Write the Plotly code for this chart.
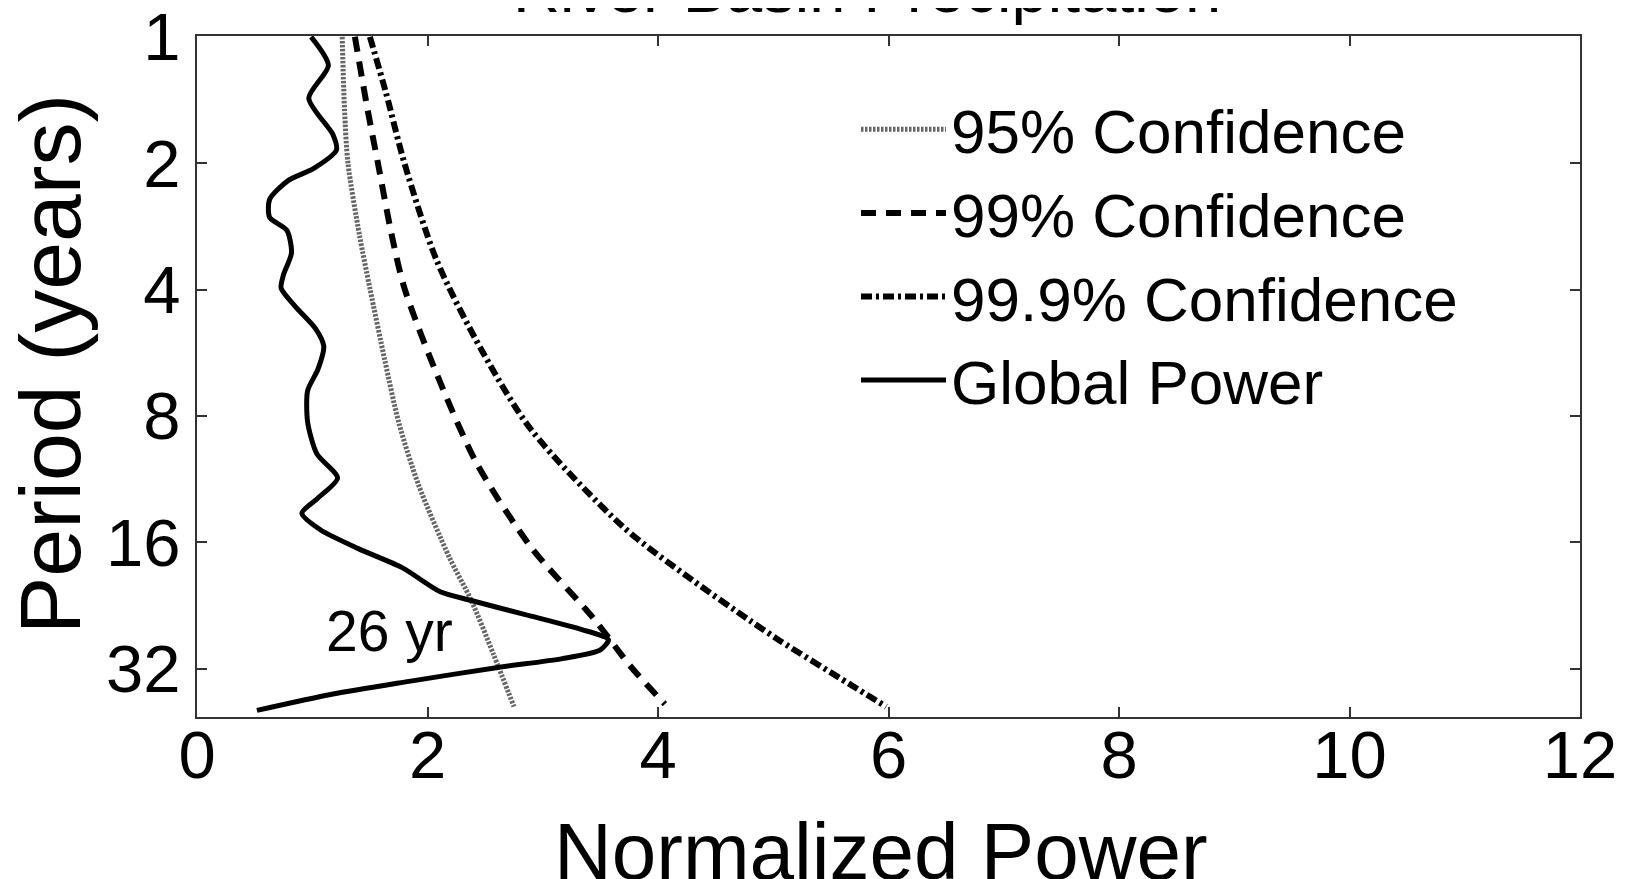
import math
import plotly.graph_objects as go

# ---- data ----
gp_period = [1.00, 1.17, 1.40, 1.71, 1.86, 2.06, 2.20, 2.44, 2.69, 2.89, 3.27, 3.69, 3.97,
             4.38, 4.96, 5.46, 6.19, 6.96, 8.28, 9.85, 11.24, 12.55, 13.64, 14.93, 16.56,
             18.38, 20.97, 22.01, 23.75, 25.81, 27.28, 28.84, 30.27, 31.78, 34.30, 36.76, 40.22]
gp_power = [0.99, 1.14, 0.97, 1.18, 1.21, 1.01, 0.79, 0.63, 0.63, 0.78, 0.82, 0.75, 0.73,
            0.85, 1.03, 1.10, 1.05, 0.96, 0.96, 1.04, 1.22, 1.05, 0.91, 1.07, 1.40,
            1.78, 2.11, 2.38, 2.84, 3.34, 3.57, 3.50, 3.17, 2.61, 1.84, 1.18, 0.52]

c95_period = [1.00, 1.49, 2.00, 2.97, 3.97, 5.90, 8.28, 11.63, 17.39, 22.01, 29.45, 39.40]
c95_power = [1.26, 1.28, 1.31, 1.41, 1.50, 1.63, 1.75, 1.92, 2.19, 2.38, 2.57, 2.75]

c99_period = [1.00, 1.49, 2.00, 2.97, 3.97, 6.45, 10.41, 16.45, 24.08, 31.78, 38.85]
c99_power = [1.37, 1.48, 1.57, 1.69, 1.80, 2.09, 2.43, 2.90, 3.43, 3.77, 4.06]

c999_period = [1.00, 1.36, 2.00, 3.41, 5.58, 8.63, 14.72, 19.70, 24.59, 27.47, 34.78, 39.40]
c999_power = [1.50, 1.64, 1.80, 2.08, 2.47, 2.90, 3.70, 4.30, 4.80, 5.06, 5.66, 5.98]

x_ticks = [0, 2, 4, 6, 8, 10, 12]
y_ticks = [1, 2, 4, 8, 16, 32]
y_tick_labels = ["1", "2", "4", "8", "16", "32"]
peak_label = "26 yr"
peak_x, peak_y = 1.67, 26
title_text = "River Basin Precipitation"

FONT = "Liberation Sans, Arial, Helvetica, sans-serif"

fig = go.Figure()
fig.add_trace(go.Scatter(x=c95_power, y=c95_period, mode="lines", name="95% Confidence",
                         line=dict(color="#666666", width=5, dash="2.5px,1.5px", shape="spline", smoothing=0.8)))
fig.add_trace(go.Scatter(x=c99_power, y=c99_period, mode="lines", name="99% Confidence",
                         line=dict(color="black", width=6, dash="15px,10px", shape="spline", smoothing=0.8)))
fig.add_trace(go.Scatter(x=c999_power, y=c999_period, mode="lines", name="99.9% Confidence",
                         line=dict(color="black", width=6, dash="11px,4px,3px,4px", shape="spline", smoothing=0.8)))
fig.add_trace(go.Scatter(x=gp_power, y=gp_period, mode="lines", name="Global Power",
                         line=dict(color="black", width=5, shape="spline", smoothing=0.7)))

# page body has an 8px margin; work in page pixels and convert
OFF = 8
W, H = 1628 - OFF, 879 - OFF
left_px, right_px, top_px, bottom_px = 197, 1580, 36, 717   # plot area in page pixels
L = left_px - OFF
T = top_px - OFF
R = W - (right_px - OFF)
B = H - (bottom_px - OFF)
pw, ph = W - L - R, H - T - B

def px_x(p):
    return (p - OFF - L) / pw

def px_y(p):
    return (H - B - (p - OFF)) / ph

axis_common = dict(showline=True, linecolor="#333", linewidth=2, mirror="ticks",
                   ticks="inside", ticklen=10, tickwidth=2, tickcolor="#333",
                   showgrid=False, zeroline=False, ticklabeloverflow="allow",
                   automargin=False,
                   tickfont=dict(family=FONT, size=67, color="black"))

fig.update_layout(
    width=W, height=H,
    margin=dict(l=L, r=R, t=T, b=B, autoexpand=False),
    paper_bgcolor="white", plot_bgcolor="white",
    xaxis=dict(range=[0, 12], tickvals=x_ticks, ticklabelstandoff=-21, **axis_common),
    yaxis=dict(type="log", range=[math.log10(41.7), -0.002], tickvals=y_ticks, ticktext=y_tick_labels,
               ticklabelstandoff=1, **axis_common),
    showlegend=True,
    legend=dict(x=px_x(856), y=px_y(82.5), xanchor="left", yanchor="top",
                bgcolor="rgba(0,0,0,0)", itemwidth=85,
                font=dict(family=FONT, size=62, color="black"), tracegroupgap=0),
    annotations=[
        dict(text="Normalized Power", xref="paper", yref="paper", x=px_x(881), y=px_y(851),
             xanchor="center", yanchor="middle", showarrow=False,
             font=dict(family=FONT, size=80, color="black")),
        dict(text="Period (years)", xref="paper", yref="paper", x=px_x(50), y=px_y(364),
             xanchor="center", yanchor="middle", showarrow=False, textangle=-90,
             font=dict(family=FONT, size=86, color="black")),
        dict(text=peak_label, xref="x", yref="y", x=peak_x, y=math.log10(peak_y),
             xanchor="center", yanchor="middle", showarrow=False,
             font=dict(family=FONT, size=57, color="black")),
        dict(text=title_text, xref="paper", yref="paper", x=px_x(867), y=px_y(28),
             xanchor="center", yanchor="bottom", showarrow=False,
             font=dict(family=FONT, size=65, color="black")),
    ],
)

fig.write_html("out.html")
